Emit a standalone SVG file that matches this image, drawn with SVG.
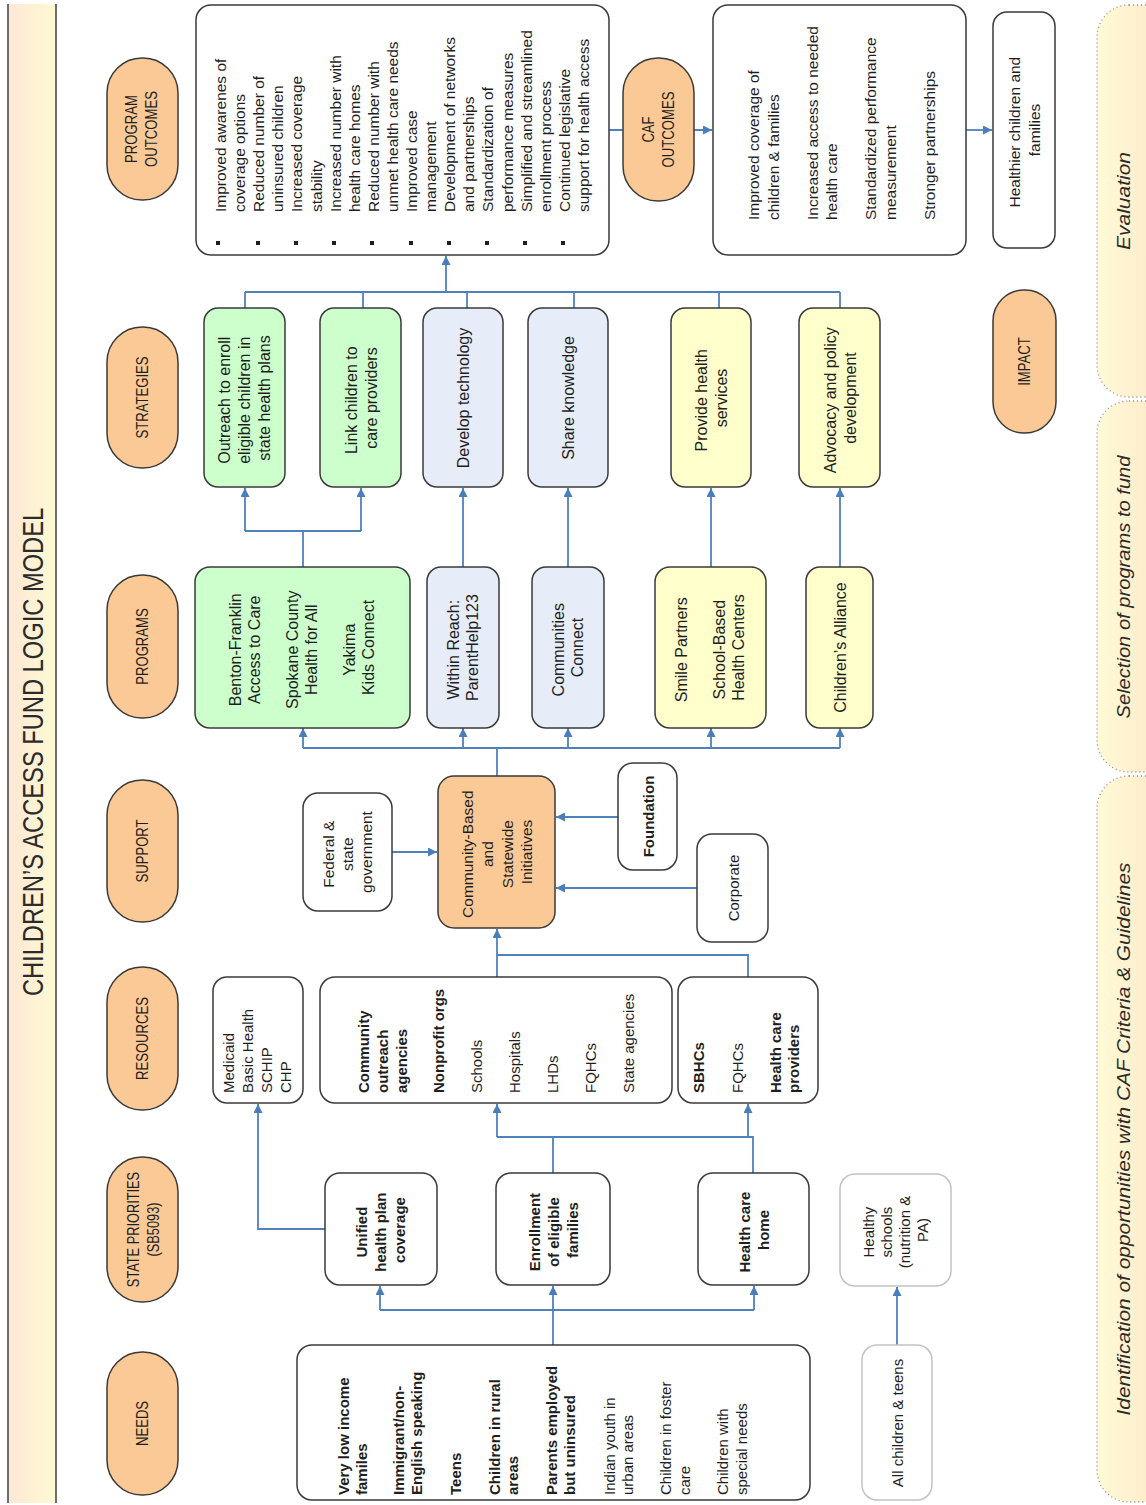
<svg xmlns="http://www.w3.org/2000/svg" width="1146" height="1505" viewBox="0 0 1146 1505">
<defs>
  <linearGradient id="gTitle" x1="0" y1="0" x2="1" y2="0">
    <stop offset="0" stop-color="#fde7d6"/>
    <stop offset="1" stop-color="#fffad3"/>
  </linearGradient>
  <linearGradient id="gPhase" x1="0" y1="0" x2="1" y2="0">
    <stop offset="0" stop-color="#fffad6"/>
    <stop offset="1" stop-color="#fde3c6"/>
  </linearGradient>
  <marker id="arr" viewBox="0 0 10 10" refX="10" refY="5" markerWidth="9" markerHeight="9" markerUnits="userSpaceOnUse" orient="auto">
    <path d="M0,0 L10,5 L0,10 z" fill="#4a7ebb"/>
  </marker>
  <style>
    text, tspan { font-family: "Liberation Sans", Arial, sans-serif; fill: #1e1e1e; dominant-baseline: central; }
    .b { font-weight: bold; }
    .t { font-size: 15.5px; }
    .t16 { font-size: 16px; }
    .t15 { font-size: 15px; }
    .lbl { font-size: 16px; }
    .title { font-size: 30px; fill: #2b2b2b; }
    .phaseT { font-size: 19px; font-style: italic; fill: #2b2b2b; }
    .pill { fill: #fbc996; stroke: #3a3a3a; stroke-width: 1.5; }
    .box { fill: #ffffff; stroke: #3a3a3a; stroke-width: 1.5; }
    .green { fill: #ccffcc; }
    .blue { fill: #e6ecf8; }
    .yellow { fill: #ffffcc; }
    .orange { fill: #fbc996; }
    .light { fill: #ffffff; stroke: #c2c2c2; stroke-width: 1.5; }
    .phase { fill: url(#gPhase); stroke: #8a8a8a; stroke-width: 1.3; stroke-dasharray: 1 3; }
    .c path { stroke: #4f81bd; stroke-width: 1.8; fill: none; }
    .c path.a { marker-end: url(#arr); }
    .bullet { fill: #1e1e1e; }
  </style>
</defs>

<rect width="1146" height="1505" fill="#ffffff"/>

<!-- Title band -->
<g id="title">
  <rect x="8" y="4" width="48" height="1499" fill="url(#gTitle)"/>
  <line x1="8" y1="4" x2="8" y2="1503" stroke="#6e6e6e" stroke-width="2"/>
  <line x1="56" y1="4" x2="56" y2="1503" stroke="#6e6e6e" stroke-width="2"/>
  <text class="title" text-anchor="middle" transform="translate(33,752) rotate(-90) scale(0.79,1)">CHILDREN’S ACCESS FUND LOGIC MODEL</text>
</g>

<!-- Phase bands on the right -->
<g id="phase-evaluation">
  <rect class="phase" x="1097" y="5" width="90" height="392" rx="32" ry="32"/>
  <text class="phaseT" text-anchor="middle" transform="translate(1123,201) rotate(-90)" textLength="98" lengthAdjust="spacingAndGlyphs">Evaluation</text>
</g>
<g id="phase-selection">
  <rect class="phase" x="1097" y="401" width="90" height="371" rx="32" ry="32"/>
  <text class="phaseT" text-anchor="middle" transform="translate(1123,587) rotate(-90)" textLength="263" lengthAdjust="spacingAndGlyphs">Selection of programs to fund</text>
</g>
<g id="phase-identification">
  <rect class="phase" x="1097" y="776" width="90" height="726" rx="32" ry="32"/>
  <text class="phaseT" text-anchor="middle" transform="translate(1123,1139) rotate(-90)" textLength="553" lengthAdjust="spacingAndGlyphs">Identification of opportunities with CAF Criteria &amp; Guidelines</text>
</g>

<!-- Connectors -->
<g id="connectors" class="c">
  <!-- needs -> state priorities -->
  <path d="M553,1345 V1286" class="a"/>
  <path d="M380,1310 H754"/>
  <path d="M380,1310 V1286" class="a"/>
  <path d="M754,1310 V1286" class="a"/>
  <path d="M897,1345 V1287" class="a"/>
  <!-- state priorities -> resources -->
  <path d="M325,1229 H258 V1104" class="a"/>
  <path d="M553,1173 V1137"/>
  <path d="M497,1137 H753"/>
  <path d="M497,1137 V1104" class="a"/>
  <path d="M753,1173 V1137 H748 V1104" class="a"/>
  <!-- resources -> support -->
  <path d="M748,977 V955 H497"/>
  <path d="M497,977 V929" class="a"/>
  <path d="M392,852 H437" class="a"/>
  <path d="M618,817 H556" class="a"/>
  <path d="M697,888 H556" class="a"/>
  <!-- support -> programs -->
  <path d="M497,776 V748"/>
  <path d="M303,748 H840"/>
  <path d="M303,748 V728" class="a"/>
  <path d="M463,748 V728" class="a"/>
  <path d="M568,748 V728" class="a"/>
  <path d="M711,748 V728" class="a"/>
  <path d="M840,748 V728" class="a"/>
  <!-- programs -> strategies -->
  <path d="M303,567 V531"/>
  <path d="M245,531 H361"/>
  <path d="M245,531 V488" class="a"/>
  <path d="M361,531 V488" class="a"/>
  <path d="M463,567 V488" class="a"/>
  <path d="M568,567 V488" class="a"/>
  <path d="M711,567 V488" class="a"/>
  <path d="M840,567 V488" class="a"/>
  <!-- strategies -> program outcomes -->
  <path d="M245,308 V292"/>
  <path d="M363,308 V292"/>
  <path d="M467,308 V292"/>
  <path d="M574,308 V292"/>
  <path d="M719,308 V292"/>
  <path d="M840,308 V292"/>
  <path d="M245,292 H840"/>
  <path d="M446,292 V256" class="a"/>
  <!-- outcomes -> CAF outcomes -> impact -->
  <path d="M609,130 H712" class="a"/>
  <path d="M966,130 H992" class="a"/>
</g>

<!-- Row labels -->
<g id="lbl-program-outcomes">
  <rect class="pill" x="107" y="58" width="71" height="142" rx="35" ry="35"/>
  <text class="lbl" text-anchor="middle" transform="translate(0,129) rotate(-90) scale(0.82,1)"><tspan x="0" y="132">PROGRAM</tspan><tspan x="0" y="152">OUTCOMES</tspan></text>
</g>
<g id="lbl-strategies">
  <rect class="pill" x="107" y="327" width="71" height="141" rx="35" ry="35"/>
  <text class="lbl" text-anchor="middle" transform="translate(0,397.5) rotate(-90) scale(0.82,1)"><tspan x="0" y="142.5">STRATEGIES</tspan></text>
</g>
<g id="lbl-programs">
  <rect class="pill" x="107" y="575" width="71" height="143" rx="35" ry="35"/>
  <text class="lbl" text-anchor="middle" transform="translate(0,646.5) rotate(-90) scale(0.82,1)"><tspan x="0" y="142.5">PROGRAMS</tspan></text>
</g>
<g id="lbl-support">
  <rect class="pill" x="107" y="780" width="71" height="142" rx="35" ry="35"/>
  <text class="lbl" text-anchor="middle" transform="translate(0,851) rotate(-90) scale(0.82,1)"><tspan x="0" y="142.5">SUPPORT</tspan></text>
</g>
<g id="lbl-resources">
  <rect class="pill" x="107" y="967" width="71" height="143" rx="35" ry="35"/>
  <text class="lbl" text-anchor="middle" transform="translate(0,1038.5) rotate(-90) scale(0.82,1)"><tspan x="0" y="142.5">RESOURCES</tspan></text>
</g>
<g id="lbl-state-priorities">
  <rect class="pill" x="107" y="1157" width="71" height="145" rx="35" ry="35"/>
  <text class="lbl" text-anchor="middle" transform="translate(0,1229.5) rotate(-90) scale(0.8,1)"><tspan x="0" y="133">STATE PRIORITIES</tspan><tspan x="0" y="153">(SB5093)</tspan></text>
</g>
<g id="lbl-needs">
  <rect class="pill" x="107" y="1352" width="71" height="143" rx="35" ry="35"/>
  <text class="lbl" text-anchor="middle" transform="translate(0,1423.5) rotate(-90) scale(0.82,1)"><tspan x="0" y="142.5">NEEDS</tspan></text>
</g>
<g id="lbl-caf-outcomes">
  <rect class="pill" x="623" y="58" width="71" height="143" rx="35" ry="35"/>
  <text class="lbl" text-anchor="middle" transform="translate(0,129.5) rotate(-90) scale(0.82,1)"><tspan x="0" y="649">CAF</tspan><tspan x="0" y="669">OUTCOMES</tspan></text>
</g>
<g id="lbl-impact">
  <rect class="pill" x="993" y="290" width="63" height="143" rx="31" ry="31"/>
  <text class="lbl" text-anchor="middle" transform="translate(0,361.5) rotate(-90) scale(0.82,1)"><tspan x="0" y="1024.5">IMPACT</tspan></text>
</g>

<!-- Program outcomes -->
<g id="program-outcomes">
  <rect class="box" x="196" y="5" width="413" height="250" rx="15" ry="15"/>
  <rect class="bullet" x="216" y="241" width="4" height="4"/>
  <rect class="bullet" x="256" y="241" width="4" height="4"/>
  <rect class="bullet" x="294" y="241" width="4" height="4"/>
  <rect class="bullet" x="332" y="241" width="4" height="4"/>
  <rect class="bullet" x="370" y="241" width="4" height="4"/>
  <rect class="bullet" x="409" y="241" width="4" height="4"/>
  <rect class="bullet" x="447" y="241" width="4" height="4"/>
  <rect class="bullet" x="485" y="241" width="4" height="4"/>
  <rect class="bullet" x="523" y="241" width="4" height="4"/>
  <rect class="bullet" x="561" y="241" width="4" height="4"/>
  <text class="t" transform="translate(0,212) rotate(-90)">
    <tspan x="0" y="220">Improved awarenes of</tspan>
    <tspan x="0" y="239.1">coverage options</tspan>
    <tspan x="0" y="258.2">Reduced number of</tspan>
    <tspan x="0" y="277.3">uninsured children</tspan>
    <tspan x="0" y="296.4">Increased coverage</tspan>
    <tspan x="0" y="315.5">stability</tspan>
    <tspan x="0" y="334.6">Increased number with</tspan>
    <tspan x="0" y="353.7">health care homes</tspan>
    <tspan x="0" y="372.8">Reduced number with</tspan>
    <tspan x="0" y="391.9">unmet health care needs</tspan>
    <tspan x="0" y="411">Improved case</tspan>
    <tspan x="0" y="430.1">management</tspan>
    <tspan x="0" y="449.2">Development of networks</tspan>
    <tspan x="0" y="468.3">and partnerships</tspan>
    <tspan x="0" y="487.4">Standardization of</tspan>
    <tspan x="0" y="506.5">performance measures</tspan>
    <tspan x="0" y="525.6">Simplified and streamlined</tspan>
    <tspan x="0" y="544.7">enrollment process</tspan>
    <tspan x="0" y="563.8">Continued legislative</tspan>
    <tspan x="0" y="582.9">support for health access</tspan>
  </text>
</g>

<!-- CAF outcomes -->
<g id="caf-outcomes">
  <rect class="box" x="713" y="5" width="253" height="250" rx="15" ry="15"/>
  <text class="t" transform="translate(0,220) rotate(-90)">
    <tspan x="0" y="753">Improved coverage of</tspan>
    <tspan x="0" y="772.5">children &amp; families</tspan>
    <tspan x="0" y="811.5">Increased access to needed</tspan>
    <tspan x="0" y="831">health care</tspan>
    <tspan x="0" y="870">Standardized performance</tspan>
    <tspan x="0" y="889.5">measurement</tspan>
    <tspan x="0" y="928.5">Stronger partnerships</tspan>
  </text>
</g>

<!-- Impact -->
<g id="impact-healthier">
  <rect class="box" x="993" y="12" width="62" height="236" rx="14" ry="14"/>
  <text class="t" text-anchor="middle" transform="translate(0,130) rotate(-90)">
    <tspan x="0" y="1014">Healthier children and</tspan>
    <tspan x="0" y="1033.5">families</tspan>
  </text>
</g>

<!-- Strategies -->
<g id="str-outreach">
  <rect class="box green" x="204" y="308" width="81" height="179" rx="14" ry="14"/>
  <text class="t16" text-anchor="middle" transform="translate(0,398) rotate(-90)">
    <tspan x="0" y="224">Outreach to enroll</tspan>
    <tspan x="0" y="244">eligible children in</tspan>
    <tspan x="0" y="264">state health plans</tspan>
  </text>
</g>
<g id="str-link">
  <rect class="box green" x="320" y="308" width="81" height="179" rx="14" ry="14"/>
  <text class="t16" text-anchor="middle" transform="translate(0,398) rotate(-90)">
    <tspan x="0" y="350.5">Link children to</tspan>
    <tspan x="0" y="370.5">care providers</tspan>
  </text>
</g>
<g id="str-technology">
  <rect class="box blue" x="423" y="308" width="80" height="179" rx="14" ry="14"/>
  <text class="t16" text-anchor="middle" transform="translate(0,398) rotate(-90)"><tspan x="0" y="463">Develop technology</tspan></text>
</g>
<g id="str-knowledge">
  <rect class="box blue" x="528" y="308" width="80" height="179" rx="14" ry="14"/>
  <text class="t16" text-anchor="middle" transform="translate(0,398) rotate(-90)"><tspan x="0" y="568">Share knowledge</tspan></text>
</g>
<g id="str-health-services">
  <rect class="box yellow" x="671" y="308" width="80" height="179" rx="14" ry="14"/>
  <text class="t16" text-anchor="middle" transform="translate(0,398) rotate(-90)">
    <tspan x="0" y="701">Provide health</tspan>
    <tspan x="0" y="721">services</tspan>
  </text>
</g>
<g id="str-advocacy">
  <rect class="box yellow" x="799" y="308" width="81" height="179" rx="14" ry="14"/>
  <text class="t16" text-anchor="middle" transform="translate(0,398) rotate(-90)">
    <tspan x="0" y="829.5">Advocacy and policy</tspan>
    <tspan x="0" y="849.5">development</tspan>
  </text>
</g>

<!-- Programs -->
<g id="prg-regional">
  <rect class="box green" x="195" y="567" width="215" height="161" rx="15" ry="15"/>
  <text class="t16" text-anchor="middle" transform="translate(0,647.5) rotate(-90)">
    <tspan x="0" y="235">Benton-Franklin</tspan>
    <tspan x="0" y="253.5">Access to Care</tspan>
    <tspan x="0" y="292">Spokane County</tspan>
    <tspan x="0" y="310.5">Health for All</tspan>
    <tspan x="0" y="349">Yakima</tspan>
    <tspan x="0" y="367.5">Kids Connect</tspan>
  </text>
</g>
<g id="prg-within-reach">
  <rect class="box blue" x="427" y="567" width="72" height="161" rx="14" ry="14"/>
  <text class="t16" text-anchor="middle" transform="translate(0,647.5) rotate(-90)">
    <tspan x="0" y="453">Within Reach:</tspan>
    <tspan x="0" y="472">ParentHelp123</tspan>
  </text>
</g>
<g id="prg-communities-connect">
  <rect class="box blue" x="532" y="567" width="72" height="161" rx="14" ry="14"/>
  <text class="t16" text-anchor="middle" transform="translate(0,647.5) rotate(-90)">
    <tspan x="0" y="558">Communities</tspan>
    <tspan x="0" y="577">Connect</tspan>
  </text>
</g>
<g id="prg-smile">
  <rect class="box yellow" x="655" y="567" width="111" height="161" rx="15" ry="15"/>
  <text class="t16" text-anchor="middle" transform="translate(0,647.5) rotate(-90)">
    <tspan x="0" y="681">Smile Partners</tspan>
    <tspan x="0" y="719">School-Based</tspan>
    <tspan x="0" y="738">Health Centers</tspan>
  </text>
</g>
<g id="prg-alliance">
  <rect class="box yellow" x="806" y="567" width="67" height="161" rx="14" ry="14"/>
  <text class="t16" text-anchor="middle" transform="translate(0,647.5) rotate(-90)"><tspan x="0" y="839.5">Children’s Alliance</tspan></text>
</g>

<!-- Support -->
<g id="sup-government">
  <rect class="box" x="303" y="793" width="89" height="118" rx="15" ry="15"/>
  <text class="t" text-anchor="middle" transform="translate(0,852) rotate(-90)">
    <tspan x="0" y="328">Federal &amp;</tspan>
    <tspan x="0" y="347">state</tspan>
    <tspan x="0" y="366">government</tspan>
  </text>
</g>
<g id="sup-initiatives">
  <rect class="box orange" x="438" y="776" width="117" height="152" rx="16" ry="16"/>
  <text class="t" text-anchor="middle" transform="translate(0,852) rotate(-90)">
    <tspan x="0" y="467">Community-Based</tspan>
    <tspan x="0" y="487">and</tspan>
    <tspan x="0" y="507">Statewide</tspan>
    <tspan x="0" y="526">Initiatives</tspan>
  </text>
</g>
<g id="sup-foundation">
  <rect class="box" x="618" y="763" width="59" height="107" rx="15" ry="15"/>
  <text class="t15 b" text-anchor="middle" transform="translate(0,816.5) rotate(-90)"><tspan x="0" y="647.5">Foundation</tspan></text>
</g>
<g id="sup-corporate">
  <rect class="box" x="697" y="834" width="71" height="108" rx="15" ry="15"/>
  <text class="t15" text-anchor="middle" transform="translate(0,888) rotate(-90)"><tspan x="0" y="732.5">Corporate</tspan></text>
</g>

<!-- Resources -->
<g id="res-plans">
  <rect class="box" x="213" y="977" width="90" height="126" rx="14" ry="14"/>
  <text class="t15" transform="translate(0,1093) rotate(-90)">
    <tspan x="0" y="228">Medicaid</tspan>
    <tspan x="0" y="247">Basic Health</tspan>
    <tspan x="0" y="266">SCHIP</tspan>
    <tspan x="0" y="285">CHP</tspan>
  </text>
</g>
<g id="res-community">
  <rect class="box" x="320" y="977" width="352" height="126" rx="15" ry="15"/>
  <text class="t15" transform="translate(0,1093) rotate(-90)">
    <tspan class="b" x="0" y="363">Community</tspan>
    <tspan class="b" x="0" y="382">outreach</tspan>
    <tspan class="b" x="0" y="401">agencies</tspan>
    <tspan class="b" x="0" y="438">Nonprofit orgs</tspan>
    <tspan x="0" y="476">Schools</tspan>
    <tspan x="0" y="514">Hospitals</tspan>
    <tspan x="0" y="552">LHDs</tspan>
    <tspan x="0" y="590">FQHCs</tspan>
    <tspan x="0" y="628">State agencies</tspan>
  </text>
</g>
<g id="res-providers">
  <rect class="box" x="678" y="977" width="140" height="126" rx="15" ry="15"/>
  <text class="t15" transform="translate(0,1093) rotate(-90)">
    <tspan class="b" x="0" y="698">SBHCs</tspan>
    <tspan x="0" y="737">FQHCs</tspan>
    <tspan class="b" x="0" y="775">Health care</tspan>
    <tspan class="b" x="0" y="793">providers</tspan>
  </text>
</g>

<!-- State priorities -->
<g id="sp-unified">
  <rect class="box" x="325" y="1173" width="112" height="112" rx="15" ry="15"/>
  <text class="t15 b" text-anchor="middle" transform="translate(0,1230) rotate(-90)">
    <tspan x="0" y="361">Unified</tspan>
    <tspan x="0" y="380">health plan</tspan>
    <tspan x="0" y="399">coverage</tspan>
  </text>
</g>
<g id="sp-enrollment">
  <rect class="box" x="496" y="1173" width="114" height="112" rx="15" ry="15"/>
  <text class="t15 b" text-anchor="middle" transform="translate(0,1230) rotate(-90)">
    <tspan x="0" y="534">Enrollment</tspan>
    <tspan x="0" y="553">of eligible</tspan>
    <tspan x="0" y="572">families</tspan>
  </text>
</g>
<g id="sp-health-home">
  <rect class="box" x="698" y="1173" width="111" height="112" rx="15" ry="15"/>
  <text class="t15 b" text-anchor="middle" transform="translate(0,1230) rotate(-90)">
    <tspan x="0" y="744">Health care</tspan>
    <tspan x="0" y="763">home</tspan>
  </text>
</g>
<g id="sp-healthy-schools">
  <rect class="light" x="840" y="1174" width="111" height="112" rx="15" ry="15"/>
  <text class="t15" text-anchor="middle" transform="translate(0,1230) rotate(-90)">
    <tspan x="0" y="868">Healthy</tspan>
    <tspan x="0" y="886">schools</tspan>
    <tspan x="0" y="904">(nutrition &amp;</tspan>
    <tspan x="0" y="922">PA)</tspan>
  </text>
</g>

<!-- Needs -->
<g id="needs-groups">
  <rect class="box" x="297" y="1345" width="513" height="155" rx="15" ry="15"/>
  <text class="t15" transform="translate(0,1495) rotate(-90)">
    <tspan class="b" x="0" y="343">Very low income</tspan>
    <tspan class="b" x="0" y="361">familes</tspan>
    <tspan class="b" x="0" y="398">Immigrant/non-</tspan>
    <tspan class="b" x="0" y="416">English speaking</tspan>
    <tspan class="b" x="0" y="455">Teens</tspan>
    <tspan class="b" x="0" y="494">Children in rural</tspan>
    <tspan class="b" x="0" y="512">areas</tspan>
    <tspan class="b" x="0" y="551">Parents employed</tspan>
    <tspan class="b" x="0" y="569">but uninsured</tspan>
    <tspan x="0" y="609">Indian youth in</tspan>
    <tspan x="0" y="627">urban areas</tspan>
    <tspan x="0" y="665">Children in foster</tspan>
    <tspan x="0" y="684">care</tspan>
    <tspan x="0" y="722">Children with</tspan>
    <tspan x="0" y="741">special needs</tspan>
  </text>
</g>
<g id="needs-all">
  <rect class="light" x="862" y="1345" width="70" height="155" rx="15" ry="15"/>
  <text class="t15" text-anchor="middle" transform="translate(0,1423) rotate(-90)"><tspan x="0" y="897">All children &amp; teens</tspan></text>
</g>
</svg>
